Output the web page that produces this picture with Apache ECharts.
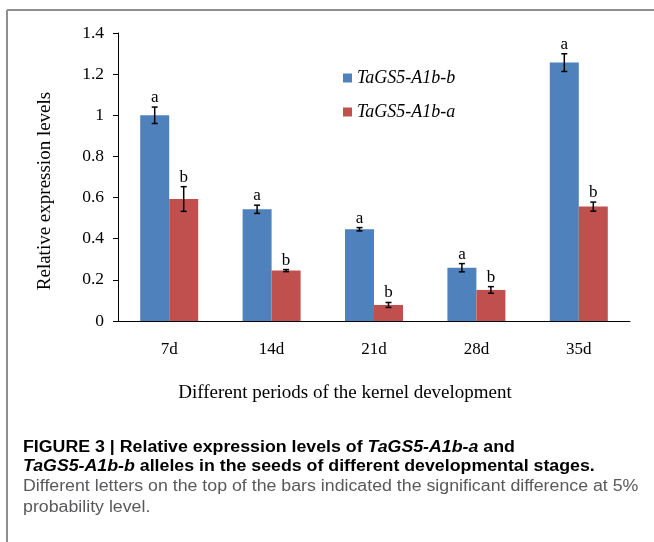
<!DOCTYPE html>
<html><head><meta charset="utf-8">
<script src="https://cdn.jsdelivr.net/npm/echarts@6/dist/echarts.min.js"></script>
<style>html,body{margin:0;padding:0;background:#fff}#c{width:654px;height:542px}</style>
</head><body><div id="c"></div>
<script>
var categories = ['7d', '14d', '21d', '28d', '35d'];
var seriesNames = ['TaGS5-A1b-b', 'TaGS5-A1b-a'];
var blueValues = [1.0, 0.543, 0.446, 0.259, 1.256];
var blueErr = [0.04, 0.02, 0.008, 0.02, 0.043];
var redValues = [0.593, 0.245, 0.078, 0.151, 0.556];
var redErr = [0.06, 0.005, 0.012, 0.016, 0.022];
var blueLetters = ['a', 'a', 'a', 'a', 'a'];
var redLetters = ['b', 'b', 'b', 'b', 'b'];
var yTicks = {min: 0, max: 1.4, interval: 0.2};

var SERIF = '"Liberation Serif", "Times New Roman", serif';
var SANS = '"Liberation Sans", Arial, sans-serif';
var BAR_W = 29;

function errData(vals, errs) {
  return vals.map(function (v, i) { return [i, v, errs[i]]; });
}
function makeErr(side, letters) {
  return function (params, api) {
    var i = api.value(0), v = api.value(1), e = api.value(2);
    var top = api.coord([i, v + e]);
    var bot = api.coord([i, v - e]);
    var cx = top[0] + side * BAR_W / 2;
    var st = {stroke: '#000', lineWidth: 1.5};
    return {
      type: 'group',
      children: [
        {type: 'line', shape: {x1: cx, y1: top[1], x2: cx, y2: bot[1]}, style: st},
        {type: 'line', shape: {x1: cx - 3, y1: top[1], x2: cx + 3, y2: top[1]}, style: st},
        {type: 'line', shape: {x1: cx - 3, y1: bot[1], x2: cx + 3, y2: bot[1]}, style: st},
        {type: 'text', x: cx, y: top[1] - 1, style: {text: letters[params.dataIndex], fill: '#000', font: '17px ' + SERIF, textAlign: 'center', textVerticalAlign: 'bottom'}}
      ]
    };
  };
}
var richBold = {
  b: {fontFamily: SANS, fontWeight: 'bold', fontSize: 16, color: '#231f20'},
  bi: {fontFamily: SANS, fontWeight: 'bold', fontStyle: 'italic', fontSize: 16, color: '#231f20'}
};

var chart = echarts.init(document.getElementById('c'), null, {renderer: 'canvas'});
chart.setOption({
  animation: false,
  backgroundColor: '#fff',
  grid: {left: 118, right: 24, top: 33, bottom: 221, containLabel: false},
  legend: {
    left: 338, top: 64, orient: 'vertical', itemWidth: 9, itemHeight: 9, itemGap: 16,
    icon: 'rect',
    data: seriesNames,
    textStyle: {fontFamily: SERIF, fontStyle: 'italic', fontSize: 18, color: '#000'}
  },
  xAxis: {
    type: 'category', data: categories,
    axisLine: {lineStyle: {color: '#000', width: 1}},
    axisTick: {length: 5, lineStyle: {color: '#000'}},
    axisLabel: {margin: 20, color: '#000', fontFamily: SERIF, fontSize: 17}
  },
  yAxis: {
    type: 'value', min: yTicks.min, max: yTicks.max, interval: yTicks.interval,
    splitLine: {show: false},
    axisLine: {show: true, lineStyle: {color: '#000', width: 1}},
    axisTick: {show: true, length: 5, lineStyle: {color: '#000'}},
    axisLabel: {margin: 14, color: '#000', fontFamily: SERIF, fontSize: 17.5}
  },
  series: [
    {name: seriesNames[0], type: 'bar', data: blueValues, barWidth: BAR_W, barGap: '0%', itemStyle: {color: '#4F81BD'}},
    {name: seriesNames[1], type: 'bar', data: redValues, barWidth: BAR_W, barGap: '0%', itemStyle: {color: '#C0504D'}},
    {type: 'custom', data: errData(blueValues, blueErr), renderItem: makeErr(-1, blueLetters), z: 5, silent: true},
    {type: 'custom', data: errData(redValues, redErr), renderItem: makeErr(1, redLetters), z: 5, silent: true}
  ],
  graphic: [
    {type: 'line', shape: {x1: 7, y1: 10, x2: 654, y2: 10}, style: {stroke: '#8f8f8f', lineWidth: 2}},
    {type: 'line', shape: {x1: 7, y1: 10, x2: 7, y2: 542}, style: {stroke: '#8f8f8f', lineWidth: 2}},
    {type: 'text', x: 45, y: 191, rotation: Math.PI / 2,
      style: {text: 'Relative expression levels', font: '19px ' + SERIF, fill: '#000', textAlign: 'center', textVerticalAlign: 'middle'}},
    {type: 'text', x: 345, y: 393,
      style: {text: 'Different periods of the kernel development', font: '19px ' + SERIF, fill: '#000', textAlign: 'center', textVerticalAlign: 'middle'}},
    {type: 'text', x: 23, y: 448, scaleX: 1.11,
      style: {text: '{b|FIGURE 3 | Relative expression levels of }{bi|TaGS5-A1b-a}{b| and}', textVerticalAlign: 'middle', rich: richBold}},
    {type: 'text', x: 23, y: 467, scaleX: 1.11,
      style: {text: '{bi|TaGS5-A1b-b}{b| alleles in the seeds of different developmental stages.}', textVerticalAlign: 'middle', rich: richBold}},
    {type: 'text', x: 23, y: 487, scaleX: 1.11,
      style: {text: 'Different letters on the top of the bars indicated the significant difference at 5%', font: '16px ' + SANS, fill: '#58595b', textVerticalAlign: 'middle'}},
    {type: 'text', x: 23, y: 508, scaleX: 1.11,
      style: {text: 'probability level.', font: '16px ' + SANS, fill: '#58595b', textVerticalAlign: 'middle'}}
  ]
});
</script>
</body></html>
